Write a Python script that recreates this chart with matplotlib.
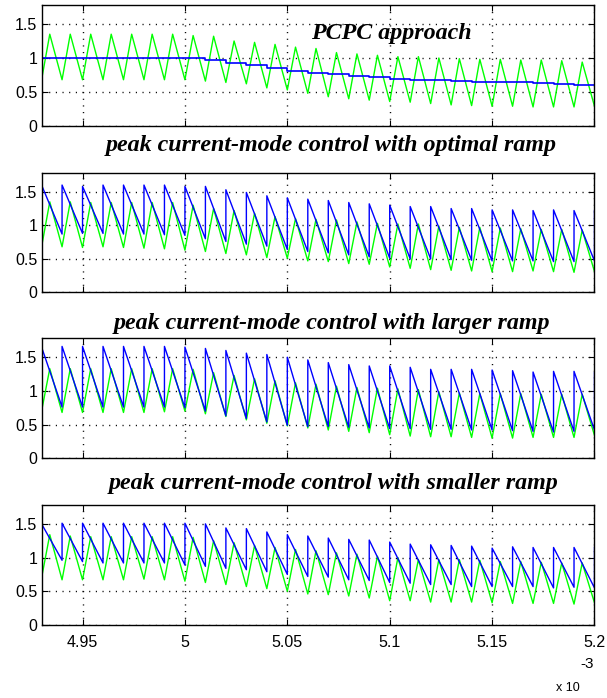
"""
Токи/управляющий сигнал для четырёх вариантов управления (PCPC и peak
current-mode с разными компенсирующими рампами). Значения сняты с картинки
по вершинам пилы: впадина на фронте такта, пик внутри такта.
"""
import matplotlib.pyplot as plt

# фронты тактов, мс (подпись оси x 10^-3)
T_EDGES = [4.93, 4.94, 4.95, 4.96, 4.97, 4.98, 4.99, 5.00, 5.01, 5.02,
           5.03, 5.04, 5.05, 5.06, 5.07, 5.08, 5.09, 5.10, 5.11, 5.12,
           5.13, 5.14, 5.15, 5.16, 5.17, 5.18, 5.19, 5.20]
# моменты пиков тока внутри такта
T_PEAKS = [4.934, 4.944, 4.954, 4.964, 4.974, 4.984, 4.994, 5.004, 5.014,
           5.024, 5.034, 5.044, 5.054, 5.064, 5.074, 5.084, 5.094, 5.104,
           5.114, 5.124, 5.134, 5.144, 5.154, 5.164, 5.174, 5.184, 5.194]

# --- PCPC approach ---
P1_GREEN_VALLEY = [0.68, 0.68, 0.68, 0.68, 0.68, 0.68, 0.68, 0.68, 0.66, 0.64,
                   0.62, 0.56, 0.53, 0.48, 0.43, 0.40, 0.38, 0.36, 0.35, 0.33,
                   0.31, 0.30, 0.29, 0.29, 0.28, 0.28, 0.28, 0.29]
P1_GREEN_PEAK = [1.35, 1.35, 1.35, 1.35, 1.35, 1.35, 1.35, 1.33, 1.32, 1.25,
                 1.23, 1.20, 1.16, 1.14, 1.08, 1.06, 1.04, 1.02, 1.02, 1.00,
                 0.99, 0.98, 0.98, 0.97, 0.97, 0.96, 0.94]
P1_BLUE = [1.00, 1.00, 1.00, 1.00, 1.00, 1.00, 1.00, 1.00, 0.97, 0.93,
           0.89, 0.85, 0.81, 0.78, 0.76, 0.74, 0.72, 0.69, 0.68, 0.67,
           0.66, 0.65, 0.64, 0.64, 0.63, 0.62, 0.61]

# --- optimal ramp ---
P2_GREEN_VALLEY = [0.68, 0.68, 0.67, 0.68, 0.67, 0.66, 0.65, 0.63, 0.61, 0.58,
                   0.56, 0.52, 0.51, 0.47, 0.46, 0.43, 0.42, 0.38, 0.36, 0.34,
                   0.33, 0.32, 0.31, 0.31, 0.32, 0.31, 0.30, 0.31]
P2_GREEN_PEAK = [1.35, 1.35, 1.34, 1.34, 1.34, 1.34, 1.34, 1.30, 1.25, 1.22,
                 1.18, 1.13, 1.10, 1.09, 1.08, 1.05, 1.03, 1.02, 1.02, 0.99,
                 0.97, 0.97, 0.96, 0.95, 0.94, 0.94, 0.93]
P2_BLUE_TOP = [1.60, 1.60, 1.58, 1.60, 1.60, 1.60, 1.60, 1.58, 1.58, 1.53,
               1.49, 1.44, 1.41, 1.39, 1.37, 1.34, 1.32, 1.30, 1.28, 1.28,
               1.25, 1.25, 1.23, 1.23, 1.22, 1.23, 1.22, 1.22]
P2_BLUE_BOTTOM = [0.87, 0.88, 0.88, 0.87, 0.87, 0.86, 0.85, 0.80, 0.76, 0.72,
                  0.69, 0.64, 0.61, 0.59, 0.56, 0.53, 0.51, 0.50, 0.50, 0.49,
                  0.48, 0.47, 0.47, 0.47, 0.46, 0.46, 0.47]

# --- larger ramp ---
P3_GREEN_VALLEY = [0.70, 0.68, 0.68, 0.68, 0.68, 0.68, 0.69, 0.70, 0.66, 0.62,
                   0.57, 0.52, 0.48, 0.45, 0.42, 0.40, 0.38, 0.35, 0.33, 0.32,
                   0.32, 0.31, 0.30, 0.30, 0.31, 0.31, 0.31, 0.34]
P3_GREEN_PEAK = [1.33, 1.33, 1.33, 1.33, 1.33, 1.33, 1.33, 1.32, 1.27, 1.23,
                 1.18, 1.15, 1.12, 1.10, 1.07, 1.05, 1.04, 1.03, 1.02, 0.99,
                 0.97, 0.96, 0.96, 0.96, 0.95, 0.95, 0.95]
P3_BLUE_TOP = [1.65, 1.66, 1.66, 1.66, 1.66, 1.66, 1.66, 1.65, 1.63, 1.60,
               1.56, 1.54, 1.50, 1.46, 1.42, 1.39, 1.37, 1.37, 1.35, 1.32,
               1.32, 1.32, 1.31, 1.30, 1.28, 1.29, 1.29, 1.27]
P3_BLUE_BOTTOM = [0.76, 0.76, 0.76, 0.76, 0.76, 0.76, 0.75, 0.70, 0.63, 0.59,
                  0.54, 0.49, 0.47, 0.47, 0.46, 0.45, 0.44, 0.44, 0.43, 0.43,
                  0.42, 0.42, 0.41, 0.40, 0.39, 0.40, 0.42]

# --- smaller ramp ---
P4_GREEN_VALLEY = [0.70, 0.67, 0.67, 0.67, 0.67, 0.68, 0.67, 0.65, 0.63, 0.60,
                   0.57, 0.54, 0.50, 0.46, 0.45, 0.43, 0.40, 0.36, 0.36, 0.34,
                   0.34, 0.34, 0.33, 0.32, 0.32, 0.32, 0.31, 0.33]
P4_GREEN_PEAK = [1.34, 1.32, 1.31, 1.31, 1.31, 1.31, 1.31, 1.30, 1.25, 1.22,
                 1.18, 1.15, 1.12, 1.10, 1.07, 1.05, 1.02, 1.00, 0.97, 0.97,
                 0.97, 0.96, 0.94, 0.94, 0.93, 0.92, 0.92]
P4_BLUE_TOP = [1.50, 1.51, 1.51, 1.51, 1.51, 1.51, 1.51, 1.51, 1.50, 1.44,
               1.43, 1.38, 1.34, 1.32, 1.29, 1.27, 1.26, 1.23, 1.20, 1.19,
               1.18, 1.17, 1.14, 1.16, 1.15, 1.15, 1.15, 1.15]
P4_BLUE_BOTTOM = [0.96, 0.94, 0.92, 0.92, 0.92, 0.92, 0.89, 0.87, 0.84, 0.82,
                  0.79, 0.75, 0.72, 0.71, 0.67, 0.66, 0.63, 0.62, 0.60, 0.60,
                  0.57, 0.57, 0.57, 0.57, 0.55, 0.56, 0.55]

TITLES = [
    "PCPC approach",
    "peak current-mode control with optimal ramp",
    "peak current-mode control with larger ramp",
    "peak current-mode control with smaller ramp",
]
X_TICKS = [4.95, 5.0, 5.05, 5.1, 5.15, 5.2]
X_TICK_LABELS = ["4.95", "5", "5.05", "5.1", "5.15", "5.2"]
Y_TICKS = [0, 0.5, 1, 1.5]
Y_TICK_LABELS = ["0", "0.5", "1", "1.5"]

GREEN = (0, 1, 0)
BLUE = (0, 0, 1)
TITLE_FONT = dict(family="Liberation Serif", weight="bold", style="italic", size=17.3)


def green_path(valleys, peaks):
    xs, ys = [], []
    for k, peak in enumerate(peaks):
        xs += [T_EDGES[k], T_PEAKS[k]]
        ys += [valleys[k], peak]
    xs.append(T_EDGES[-1])
    ys.append(valleys[-1])
    return xs, ys


def ramp_path(tops, bottoms):
    # спад от верхушки до конца такта, затем вертикальный скачок
    xs, ys = [], []
    for k, bottom in enumerate(bottoms):
        xs += [T_EDGES[k], T_EDGES[k + 1]]
        ys += [tops[k], bottom]
    xs.append(T_EDGES[-1])
    ys.append(tops[-1])
    return xs, ys


def style_axes(ax, show_xlabels):
    ax.set_xlim(T_EDGES[0], T_EDGES[-1])
    ax.set_ylim(0, 1.78)
    ax.set_xticks(X_TICKS)
    ax.set_yticks(Y_TICKS)
    ax.set_yticklabels(Y_TICK_LABELS, family="Liberation Sans", size=11.5)
    if show_xlabels:
        ax.set_xticklabels(X_TICK_LABELS, family="Liberation Sans", size=11.5)
    else:
        ax.set_xticklabels([])
    ax.tick_params(direction="in", top=True, right=True, length=4, width=0.8)
    ax.tick_params(axis="y", pad=3)
    ax.tick_params(axis="x", pad=7)
    ax.grid(True, color="black", linestyle=(0, (0.8, 4)), linewidth=1.0)
    for spine in ax.spines.values():
        spine.set_linewidth(1.0)


def main():
    fig = plt.figure(figsize=(6.07, 6.98), dpi=100)
    left, width = 0.0685, 0.9109
    rects = [
        [left, 0.8195, width, 0.1734],
        [left, 0.5810, width, 0.1712],
        [left, 0.3434, width, 0.1719],
        [left, 0.1046, width, 0.1719],
    ]
    axes = [fig.add_axes(rect) for rect in rects]

    # PCPC: ступенчатая опорная линия
    xs, ys = green_path(P1_GREEN_VALLEY, P1_GREEN_PEAK)
    axes[0].plot(xs, ys, color=GREEN, lw=1.0)
    axes[0].step(T_EDGES, P1_BLUE + [P1_BLUE[-1]], where="post", color=BLUE, lw=1.2)

    panels = [
        (P2_GREEN_VALLEY, P2_GREEN_PEAK, P2_BLUE_TOP, P2_BLUE_BOTTOM),
        (P3_GREEN_VALLEY, P3_GREEN_PEAK, P3_BLUE_TOP, P3_BLUE_BOTTOM),
        (P4_GREEN_VALLEY, P4_GREEN_PEAK, P4_BLUE_TOP, P4_BLUE_BOTTOM),
    ]
    for ax, (valleys, peaks, tops, bottoms) in zip(axes[1:], panels):
        xs, ys = green_path(valleys, peaks)
        ax.plot(xs, ys, color=GREEN, lw=1.0)
        xs, ys = ramp_path(tops, bottoms)
        ax.plot(xs, ys, color=BLUE, lw=1.0)

    for i, ax in enumerate(axes):
        style_axes(ax, show_xlabels=(i == len(axes) - 1))

    fig.text(391 / 607, 1 - 33 / 698, TITLES[0], ha="center", va="center", **TITLE_FONT)
    fig.text(331 / 607, 1 - 146 / 698, TITLES[1], ha="center", va="center", **TITLE_FONT)
    fig.text(332 / 607, 1 - 323 / 698, TITLES[2], ha="center", va="center", **TITLE_FONT)
    fig.text(334 / 607, 1 - 483 / 698, TITLES[3], ha="center", va="center", **TITLE_FONT)

    fig.text(568 / 607, 1 - 688 / 698, "x 10", ha="center", va="center",
             family="Liberation Sans", size=9)
    fig.text(587 / 607, 1 - 664 / 698, "-3", ha="center", va="center",
             family="Liberation Sans", size=11)

    fig.savefig("out.png", dpi=100)
    plt.close(fig)


if __name__ == "__main__":
    main()
